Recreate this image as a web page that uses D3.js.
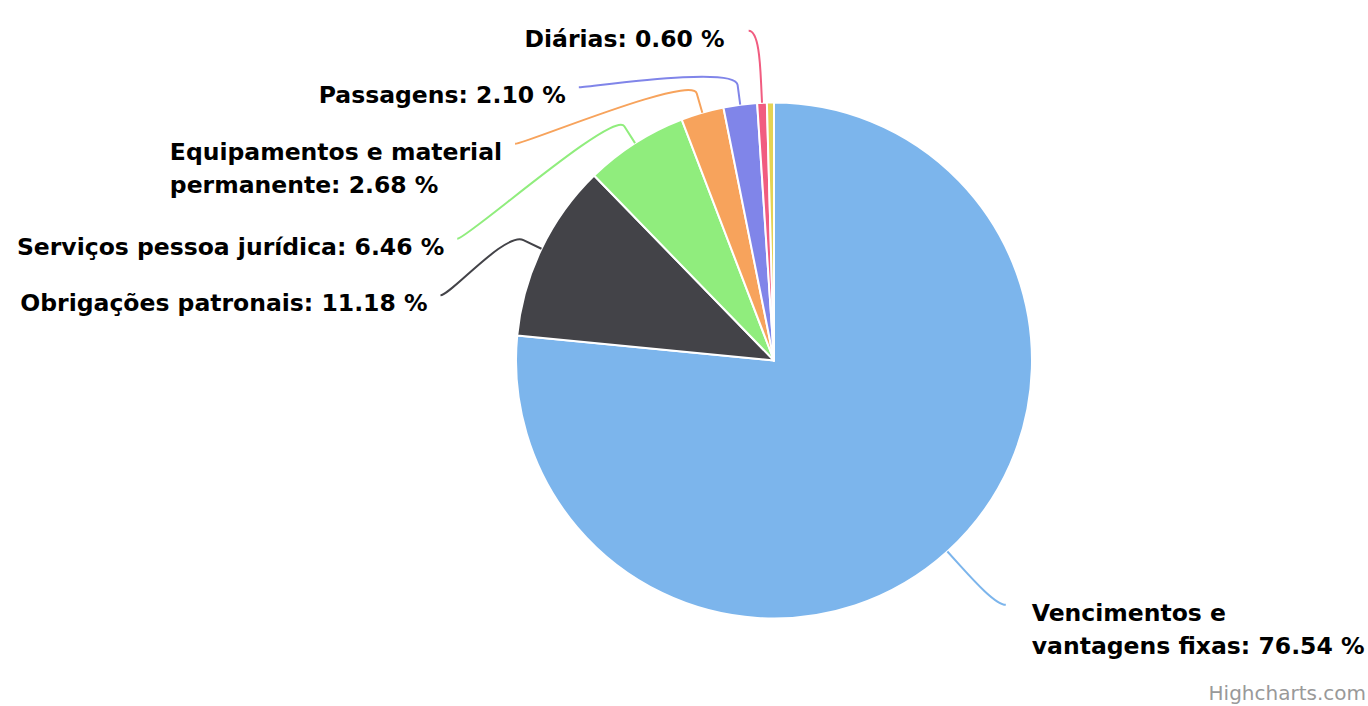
<!DOCTYPE html>
<html><head><meta charset="utf-8">
<script src="https://cdn.jsdelivr.net/npm/d3@7"></script>
<style>html,body{margin:0;padding:0;background:#fff;overflow:hidden}</style>
</head><body><svg id="chart" width="1368" height="706"></svg>
<script>
// ---- data ----
const categories = ["Vencimentos e vantagens fixas", "Obrigações patronais", "Serviços pessoa jurídica",
  "Equipamentos e material permanente", "Passagens", "Diárias", "Outros"];
const values = [76.54, 11.18, 6.46, 2.68, 2.10, 0.60, 0.44];
const showLabel = [true, true, true, true, true, true, false];
const colors = ["#7cb5ec", "#434348", "#90ed7d", "#f7a35c", "#8085e9", "#f15c80", "#e4d354"];
const creditText = "Highcharts.com";

// ---- layout ----
const W = 1368, H = 706;
const cx = 774, cy = 360.5, R = 258;
const labelDist = 72, connOffset = 20, labelPad = 10;
const fontSize = 23.5, lineH = 33;
const leftWrap = 460, rightWrap = 338;
const font = "'DejaVu Sans', Verdana, sans-serif";

const svg = d3.select("#chart");
const pieData = d3.pie().sort(null).value(d => d)(values);
const arc = d3.arc().innerRadius(0).outerRadius(R);
const g = svg.append("g").attr("transform", `translate(${cx},${cy})`);

g.selectAll("path.slice").data(pieData).join("path")
  .attr("class", "slice")
  .attr("d", arc)
  .attr("fill", (d, i) => colors[i])
  .attr("stroke", "#ffffff")
  .attr("stroke-width", 2)
  .attr("stroke-linejoin", "round");

// measuring helper
const meas = svg.append("text").attr("font-family", font).attr("font-weight", "bold")
  .attr("font-size", fontSize).attr("x", -9999).attr("y", -9999);
function textW(s) { meas.text(s); return meas.node().getComputedTextLength(); }
function wrap(s, maxW) {
  const words = s.split(" ");
  const lines = [];
  let cur = "";
  for (const w of words) {
    const t = cur ? cur + " " + w : w;
    if (cur && textW(t) > maxW) { lines.push(cur); cur = w; } else cur = t;
  }
  if (cur) lines.push(cur);
  return lines;
}

const R2 = R + labelDist;
const labels = [];
pieData.forEach((d, i) => {
  if (!showLabel[i]) return;
  const mid = (d.startAngle + d.endAngle) / 2;
  const left = mid > Math.PI;
  const txt = `${categories[i]}: ${values[i].toFixed(2)} %`;
  const lines = wrap(txt, left ? leftWrap : rightWrap);
  labels.push({
    i, mid, left, lines,
    ny: -R2 * Math.cos(mid),
    sin: Math.sin(mid), cos: Math.cos(mid)
  });
});

// distribute labels per side (push down to avoid overlap)
const slot = n => 38.5 * n + 18;
[true, false].forEach(side => {
  const arr = labels.filter(l => l.left === side).sort((a, b) => a.ny - b.ny);
  let prev = null;
  arr.forEach(l => {
    l.y = prev ? Math.max(l.ny, prev.y + slot(prev.lines.length)) : l.ny;
    l.first = !prev;
    prev = l;
  });
});

labels.forEach(l => {
  const yy = Math.max(-R2, Math.min(R2, l.y));
  const dx = Math.sqrt(R2 * R2 - yy * yy);
  l.x = l.left ? -dx - labelPad : dx + labelPad;
  // connector
  const ex = R * l.sin, ey = -R * l.cos;
  const bx = (R + connOffset) * l.sin, by = -(R + connOffset) * l.cos;
  const c1x = l.x + (l.left ? 10 : -10);
  const p = d3.path();
  p.moveTo(l.x, l.y);
  p.bezierCurveTo(c1x, l.y, 2 * bx - ex, 2 * by - ey, bx, by);
  p.lineTo(ex, ey);
  g.append("path").attr("d", p.toString()).attr("fill", "none")
    .attr("stroke", colors[l.i]).attr("stroke-width", 2);
  // text
  const widths = l.lines.map(textW);
  const boxW = d3.max(widths);
  const gap = l.left ? (l.first ? 24 : 13) : 26;
  const x0 = l.left ? l.x - gap - boxW : l.x + gap;
  const t = g.append("text").attr("font-family", font).attr("font-weight", "bold")
    .attr("font-size", fontSize).attr("fill", "#000000");
  l.lines.forEach((s, k) => {
    t.append("tspan").attr("x", x0).attr("y", l.y + 16 + k * lineH).text(s);
  });
});
meas.remove();

svg.append("text").attr("x", 1366).attr("y", 700).attr("text-anchor", "end")
  .attr("font-family", font).attr("font-size", 20).attr("fill", "#999999")
  .text(creditText);
</script>
</body></html>
